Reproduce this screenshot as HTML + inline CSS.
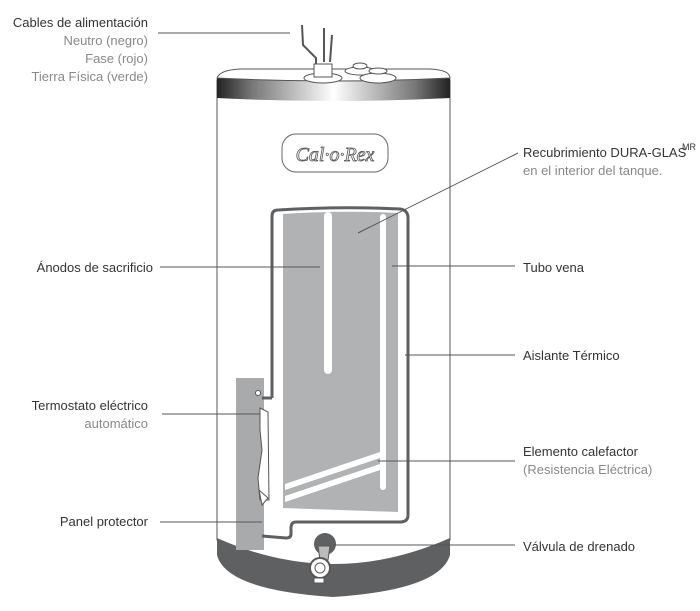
<!DOCTYPE html>
<html><head><meta charset="utf-8"><style>
html,body{margin:0;padding:0;background:#fff}
svg{display:block}
text{font-family:"Liberation Sans",sans-serif;font-size:13px}
.d{fill:#333}.g{fill:#888}
</style></head><body>
<svg width="700" height="611" viewBox="0 0 700 611">
<defs>
<linearGradient id="band" x1="0" x2="1">
<stop offset="0" stop-color="#222"/><stop offset="0.15" stop-color="#777"/><stop offset="0.5" stop-color="#fff"/><stop offset="0.85" stop-color="#777"/><stop offset="1" stop-color="#222"/>
</linearGradient>
</defs>
<path d="M217,80 L217,540 Q333,600 450,540 L450,80 Z" fill="#fff" stroke="#555" stroke-width="1"/>
<path d="M217,538 Q333,590 450,538 L450,555 Q440,590 333,597 Q226,590 217,555 Z" fill="#5f6062"/>
<path d="M217,78 L450,78 L450,98 Q333,104 217,98 Z" fill="url(#band)"/>
<path d="M217,78 Q220,70 240,69 L430,69 Q450,70 450,78 Q333,84 217,78 Z" fill="#fff" stroke="#555" stroke-width="1"/>
<ellipse cx="323" cy="78" rx="19" ry="5" fill="#fff" stroke="#555"/>
<rect x="314" y="64" width="18" height="13" fill="#fff" stroke="#555"/>
<ellipse cx="360" cy="71" rx="15" ry="4" fill="#fff" stroke="#555"/>
<ellipse cx="360" cy="66" rx="7" ry="3" fill="#fff" stroke="#555"/>
<ellipse cx="378" cy="78" rx="18" ry="5" fill="#fff" stroke="#555"/>
<ellipse cx="378" cy="71" rx="9" ry="3" fill="#fff" stroke="#555"/>
<path d="M302,25 L303,45 L316,58 L316,64" fill="none" stroke="#555" stroke-width="2"/>
<path d="M324,28 L324,62" stroke="#555" stroke-width="2"/>
<path d="M332,35 L330,62" stroke="#555" stroke-width="2"/>
<rect x="282" y="134" width="106" height="38" rx="14" fill="#fff" stroke="#666"/>
<text x="335" y="161" text-anchor="middle" style="font-family:'Liberation Serif',serif;font-style:italic;font-size:20px;fill:#fff;stroke:#555;stroke-width:0.8">Cal·o·Rex</text>
<rect x="236" y="378" width="28" height="172" fill="#a9aaac"/>
<path d="M272,398 L272,216 Q272,210 278,210 Q340,206 400,209 Q408,210 408,218 L408,515 Q408,522 400,522 L296,522 Q291,522 291,528 L291,534 Q291,538 286,538 L262,536" fill="none" stroke="#5f6062" stroke-width="3"/>
<path d="M272,398 L262,398" stroke="#5f6062" stroke-width="3"/>
<path d="M283,214 Q340,210 398,213 L398,512 L283,508 Z" fill="#b1b2b4"/>
<rect x="380" y="214" width="6" height="276" rx="3" fill="#fff"/>
<rect x="324" y="212" width="8" height="162" rx="4" fill="#fff"/>
<path d="M285,484 L380,452 L380,458 L285,490 Z" fill="#fff"/>
<path d="M285,496 L380,464 L380,470 L285,502 Z" fill="#fff"/>
<circle cx="258" cy="393" r="2.5" fill="#fff" stroke="#555"/>
<path d="M260,408 L268,412 L269,500 L260,500 L258,478 L262,450 L260,430 Z" fill="#fff" stroke="#555"/>
<path d="M259,490 L268,498 L262,505 Z" fill="#fff" stroke="#555"/>
<circle cx="325" cy="544" r="11" fill="#5f6062"/>
<path d="M318,546 L330,546 L328,560 L320,560 Z" fill="#bbb" stroke="#555"/>
<circle cx="320" cy="568" r="10" fill="#fff" stroke="#555" stroke-width="2"/>
<circle cx="320" cy="568" r="5" fill="#fff" stroke="#555"/>
<rect x="314" y="578" width="10" height="5" fill="#fff" stroke="#555"/>
<g stroke="#555" stroke-width="1" fill="none">
<path d="M158,33 L290,33"/>
<path d="M160,267 L320,267"/>
<path d="M162,414 L260,414"/>
<path d="M160,522 L262,522"/>
<path d="M358,233 L518,153"/>
<path d="M392,266 L515,266"/>
<path d="M405,355 L515,355"/>
<path d="M378,461 L515,461"/>
<path d="M334,545 L515,545"/>
</g>
<g text-anchor="end">
<text class="d" x="148" y="27">Cables de alimentación</text>
<text class="g" x="148" y="45">Neutro (negro)</text>
<text class="g" x="148" y="63">Fase (rojo)</text>
<text class="g" x="148" y="81">Tierra Física (verde)</text>
<text class="d" x="153" y="272">Ánodos de sacrificio</text>
<text class="d" x="148" y="410">Termostato eléctrico</text>
<text class="g" x="148" y="428">automático</text>
<text class="d" x="148" y="526">Panel protector</text>
</g>
<text class="d" x="523" y="157">Recubrimiento DURA-GLAS</text>
<text class="d" x="682" y="150" style="font-size:9px">MR</text>
<text class="g" x="523" y="175">en el interior del tanque.</text>
<text class="d" x="523" y="272">Tubo vena</text>
<text class="d" x="523" y="360">Aislante Térmico</text>
<text class="d" x="523" y="456">Elemento calefactor</text>
<text class="g" x="523" y="474">(Resistencia Eléctrica)</text>
<text class="d" x="523" y="551">Válvula de drenado</text>
</svg>
</body></html>
